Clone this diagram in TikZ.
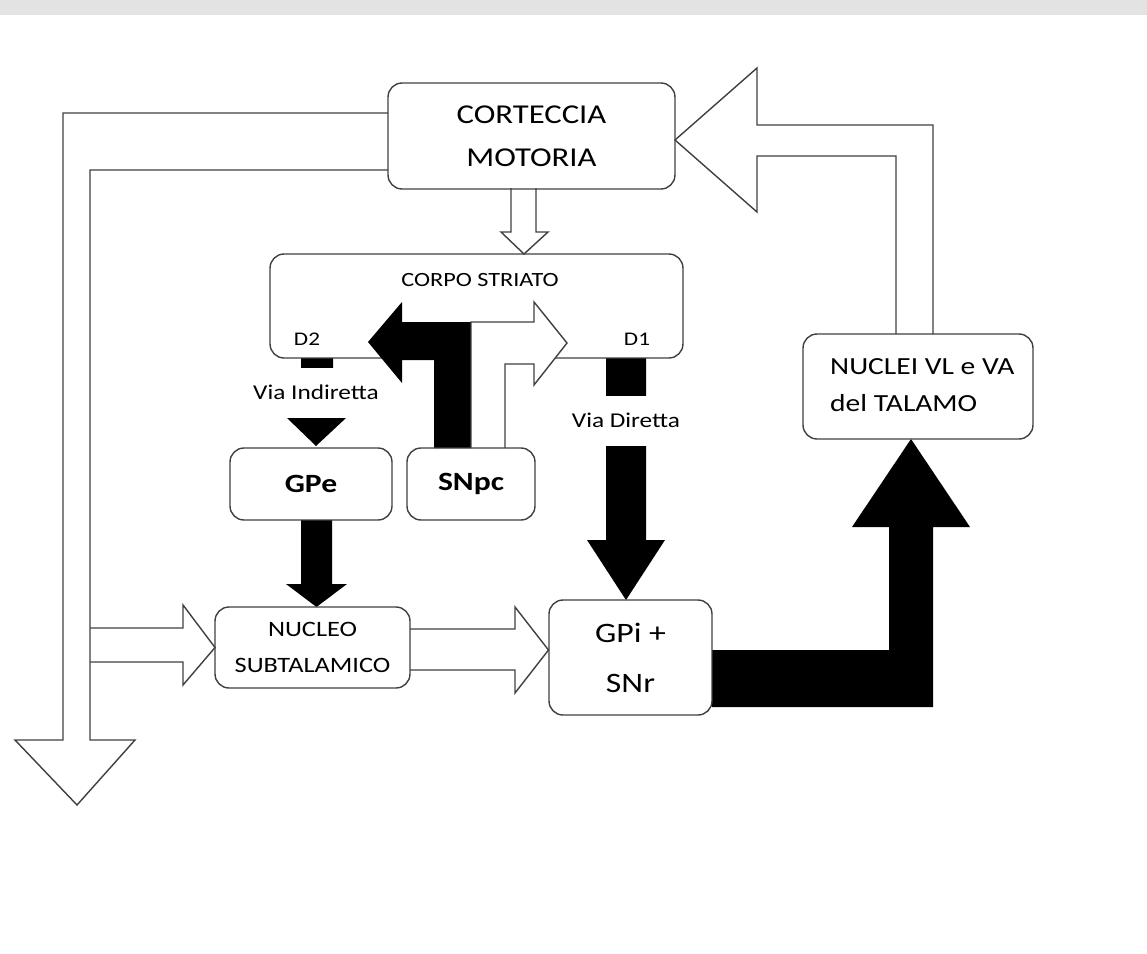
\documentclass[tikz,border=0pt]{standalone}
\usepackage{fontspec}
\setmainfont{Carlito}[FakeStretch=1.2]
\pgfdeclarelayer{bg}
\pgfdeclarelayer{fg}
\pgfsetlayers{bg,main,fg}
\def\fsz#1#2{\fontsize{#1}{#2}\selectfont}
\tikzset{
	box/.style={draw=black!75, line width=0.8pt, rounded corners=0.28cm, inner sep=0pt, outer sep=0pt, align=center},
	hollow/.style={draw=black!75, line width=0.8pt, fill=white},
	full/.style={fill=black},
	via/.style={fill=white, inner sep=0pt, minimum height=1cm, font=\fsz{12}{14}}
}

\begin{document}
\begin{tikzpicture}[x=0.02cm, y=-0.02cm]
		%%%%% START %%%%%
		\useasboundingbox (0,0) rectangle (1147,954);
		\fill[black!11] (0,0) rectangle (1147,15);
		
		\node[box, minimum width=5.74cm, minimum height=2.12cm, font=\fsz{15.5}{24.6}] (cort) at (531.5,136) {CORTECCIA\\MOTORIA};
		\node[box, minimum width=8.26cm, minimum height=2.08cm] (cstr) at (476.5,306) {};
		\node[font=\fsz{11.5}{14}] (cstrl) at (480,280) {CORPO STRIATO};
		\node[font=\fsz{11}{13}] (dtwo) at (307,339) {D2};
		\node[font=\fsz{11}{13}] (done) at (637,339) {D1};
		\node[box, minimum width=3.24cm, minimum height=1.44cm, font=\fsz{15}{18}\bfseries] (gpe) at (311,484) {GPe};
		\node[box, minimum width=3.9cm, minimum height=1.62cm, font=\fsz{12.5}{20}] (stn) at (312.5,647.5) {NUCLEO\\SUBTALAMICO};
		\node[box, minimum width=3.26cm, minimum height=2.3cm, font=\fsz{16}{28.5}] (gpi) at (630.5,657.5) {GPi +\\SNr};
		\node[box, minimum width=4.6cm, minimum height=2.1cm] (tal) at (918,386.5) {};
		\node[font=\fsz{14}{21}, align=left, anchor=west] (tall) at (824,385) {NUCLEI VL e VA\\del TALAMO};
		\begin{pgfonlayer}{fg}
			\node[box, minimum width=2.56cm, minimum height=1.44cm, font=\fsz{15}{18}\bfseries] (snpc) at (471,484) {SNpc};
		\end{pgfonlayer}
		
		\begin{pgfonlayer}{bg}
			\draw[hollow] (511,188) -- (511,232) -- (501,232) -- (524,254) -- (548,232) -- (536,232) -- (536,188);
			\draw[hollow] (90,628) -- (183,628) -- (183,605) -- (stn.west) -- (183,685) -- (183,662) -- (90,662);
			\draw[hollow] (388,113) -- (63,113) -- (63,740) -- (15,740) -- (77,805) -- (135,740) -- (90,740) -- (90,170) -- (388,170);
			\draw[hollow] (410,629) -- (515,629) -- (515,607) -- (548.5,650) -- (515,693) -- (515,670) -- (410,670);
			\draw[hollow] (933,334) -- (933,125) -- (757,125) -- (757,68) -- (675,140) -- (757,212) -- (757,156) -- (896,156) -- (896,334);
			
			\fill[full] (712,650) -- (889,650) -- (889,527) -- (852,527) -- (911,439) -- (970,527) -- (933,527) -- (933,707) -- (712,707) -- cycle;
			\fill[full] (606,358) -- (606,540) -- (587,540) -- (626,600) -- (665,540) -- (646,540) -- (646,358) -- cycle;
			\fill[full] (301,358) -- (301,418) -- (287,418) -- (316,446) -- (346,418) -- (333,418) -- (333,358) -- cycle;
			\fill[full] (301,520) -- (301,584) -- (286,584) -- (316.5,607) -- (347,584) -- (332,584) -- (332,520) -- cycle;
		\end{pgfonlayer}
		
		\node[via] (vind) at (316,392.5) {Via Indiretta};
		\node[via] (vdir) at (626,420.5) {Via Diretta};
		
		\fill[full] (434,448) -- (434,360) -- (402,360) -- (402,383) -- (368,342) -- (402,302) -- (402,322) -- (471,322) -- (471,448) -- cycle;
		\draw[hollow] (471,448) -- (471,322) -- (534,322) -- (534,302) -- (567,343) -- (534,385) -- (534,364) -- (505,364) -- (505,448);
		%%%%% END %%%%%
\end{tikzpicture}
\end{document}
